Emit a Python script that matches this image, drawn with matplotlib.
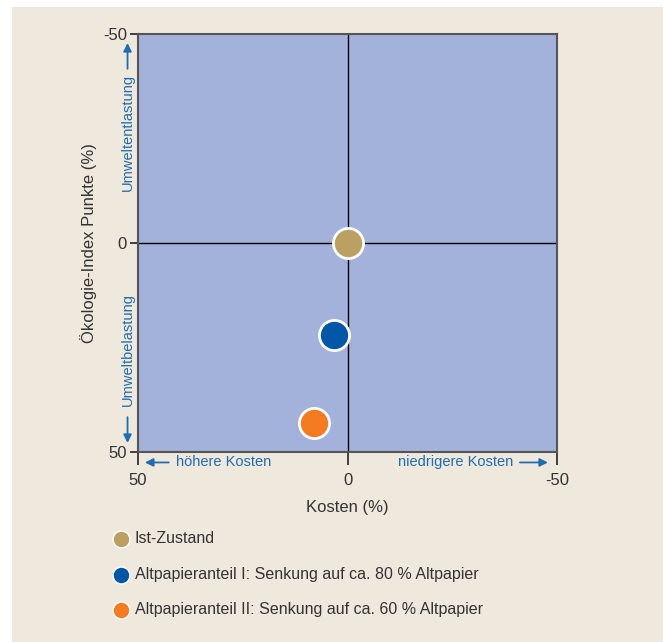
import matplotlib.pyplot as plt
from matplotlib.patches import Rectangle

# data
labels = ['Ist-Zustand',
          'Altpapieranteil I: Senkung auf ca. 80 % Altpapier',
          'Altpapieranteil II: Senkung auf ca. 60 % Altpapier']
kosten = [0, 3.3, 7.9]
oeko = [0, 22, 43]
colors = ['#BBA161', '#0057A8', '#F47B20']

beige = '#EFE8DD'
txtblue = '#1E6DB4'
plt.rcParams['font.family'] = ['Liberation Sans Narrow', 'Liberation Sans', 'DejaVu Sans']
plt.rcParams['axes.unicode_minus'] = False

fig = plt.figure(figsize=(6.63, 6.42), dpi=100, facecolor='white')
fig.patches.append(Rectangle((12/663, 0), 651/663, 635/642, transform=fig.transFigure,
                             facecolor=beige, edgecolor='none', zorder=-10))

ax = fig.add_axes([138/663, 1-452/642, 419/663, 418/642])
ax.set_facecolor('#A3B2DA')
ax.set_xlim(50, -50)
ax.set_ylim(50, -50)
for s in ax.spines.values():
    s.set_color('#555555')
    s.set_linewidth(1.5)
ax.axhline(0, color='black', lw=1)
ax.axvline(0, color='black', lw=1)

ax.set_xticks([50, 0, -50])
ax.set_yticks([-50, 0, 50])
ax.tick_params(axis='x', length=9, width=1.2, color='#222222', labelsize=12, pad=6,
               labelcolor='#333333')
ax.tick_params(axis='y', length=6, width=1.2, color='#222222', labelsize=12, pad=2,
               labelcolor='#333333')
ax.set_xlabel('Kosten (%)', fontsize=12, labelpad=9, color='#333333')
ax.set_ylabel('Ökologie-Index Punkte (%)', fontsize=12, labelpad=4, color='#333333')

handles = []
for x, y, c, l in zip(kosten, oeko, colors, labels):
    h = ax.scatter(x, y, s=470, color=c, edgecolor='white', linewidth=2, zorder=5,
                   label=l, clip_on=False)
    handles.append(h)

# direction hints
ax.annotate('', xy=(49, 52.5), xytext=(42, 52.5), annotation_clip=False,
            arrowprops=dict(arrowstyle='-|>', color=txtblue, lw=1.3, mutation_scale=12))
ax.text(29.5, 52.5, 'höhere Kosten', color=txtblue, fontsize=10.5, ha='center', va='center')
ax.annotate('', xy=(-48.5, 52.5), xytext=(-40.5, 52.5), annotation_clip=False,
            arrowprops=dict(arrowstyle='-|>', color=txtblue, lw=1.3, mutation_scale=12))
ax.text(-39.5, 52.5, 'niedrigere Kosten', color=txtblue, fontsize=10.5, ha='right', va='center')
ax.annotate('', xy=(52.5, -48.5), xytext=(52.5, -41), annotation_clip=False,
            arrowprops=dict(arrowstyle='-|>', color=txtblue, lw=1.3, mutation_scale=12))
ax.text(52.5, -26.5, 'Umweltentlastung', color=txtblue, fontsize=10.5, ha='center', va='center',
        rotation=90)
ax.annotate('', xy=(52.5, 48.5), xytext=(52.5, 41), annotation_clip=False,
            arrowprops=dict(arrowstyle='-|>', color=txtblue, lw=1.3, mutation_scale=12))
ax.text(52.5, 25.5, 'Umweltbelastung', color=txtblue, fontsize=10.5, ha='center', va='center',
        rotation=90)

leg = fig.legend(handles=handles, labels=labels, loc='upper left',
                 bbox_to_anchor=(97/663, 1-517/642), frameon=False, fontsize=11.5,
                 markerscale=0.56, labelspacing=1.28, handletextpad=0.25, handlelength=1.2,
                 labelcolor='#333333')
for h in leg.legend_handles:
    h.set_linewidth(1)

fig.savefig('out.png', dpi=100, facecolor='white')
